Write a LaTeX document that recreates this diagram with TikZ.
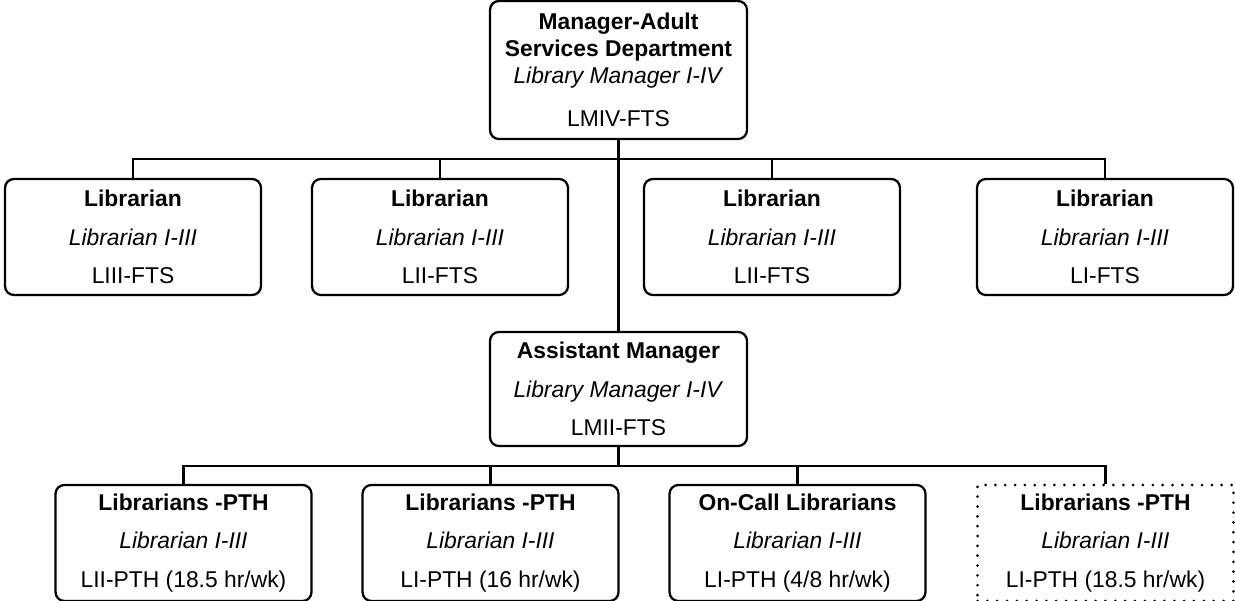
\documentclass[tikz,border=0pt]{standalone}
\usepackage{fontspec}
\setmainfont{Liberation Sans}
\usepackage{tikz}

\tikzset{
  post/.style={draw, line width=1.3pt, rounded corners=5pt, align=center,
    minimum width=5.12cm, minimum height=2.32cm, inner sep=0pt,
    font=\fontsize{13}{21.8}\selectfont},
  vacant/.style={post, rounded corners=0pt, line width=1.7pt, line cap=round,
    dash pattern=on 0pt off 5.6pt},
  link/.style={line width=1.4pt}
}

\begin{document}
\begin{tikzpicture}[x=0.02cm, y=-0.02cm]
\useasboundingbox (0,0) rectangle (1235,601);

% head of the department
\path
(618.5,70) node[post, minimum width=5.14cm, minimum height=2.76cm,
  font=\fontsize{13}{15.3}\selectfont](head)
  {\textbf{Manager-Adult}\\ \textbf{Services Department}\\
   \textit{Library Manager I-IV}\\[9.6pt] LMIV-FTS};

%% full time librarians
\path
(133,237) node[post](lib1) {\textbf{Librarian}\\ \textit{Librarian I-III}\\ LIII-FTS}
(440,237) node[post](lib2) {\textbf{Librarian}\\ \textit{Librarian I-III}\\ LII-FTS}
(772,237) node[post](lib3) {\textbf{Librarian}\\ \textit{Librarian I-III}\\ LII-FTS}
(1105,237) node[post](lib4) {\textbf{Librarian}\\ \textit{Librarian I-III}\\ LI-FTS};

\path
(618.5,389) node[post, minimum width=5.14cm, minimum height=2.28cm](asst)
  {\textbf{Assistant Manager}\\ \textit{Library Manager I-IV}\\ LMII-FTS};

%% part time and on-call librarians
\path
(183.5,543) node[post](pth1) {\textbf{Librarians -PTH}\\ \textit{Librarian I-III}\\ LII-PTH (18.5 hr/wk)}
(490.5,543) node[post](pth2) {\textbf{Librarians -PTH}\\ \textit{Librarian I-III}\\ LI-PTH (16 hr/wk)}
(797.5,543) node[post](call) {\textbf{On-Call Librarians}\\ \textit{Librarian I-III}\\ LI-PTH (4/8 hr/wk)}
(1105.5,543) node[vacant](pth3) {\textbf{Librarians -PTH}\\ \textit{Librarian I-III}\\ LI-PTH (18.5 hr/wk)};

\coordinate (bus1) at (618.5,159);
\coordinate (bus2) at (618.5,466);

\draw[link] (head) -- (asst);
\draw[link] (lib1.north) |- (bus1) -| (lib4.north);
\draw[link] (lib2.north) -- (lib2.north |- bus1);
\draw[link] (lib3.north) -- (lib3.north |- bus1);

\draw[link] (asst) -- (bus2);
\draw[link] (pth1.north) |- (bus2) -| (pth3.north);
\draw[link] (pth2.north) -- (pth2.north |- bus2);
\draw[link] (call.north) -- (call.north |- bus2);

\end{tikzpicture}
\end{document}
